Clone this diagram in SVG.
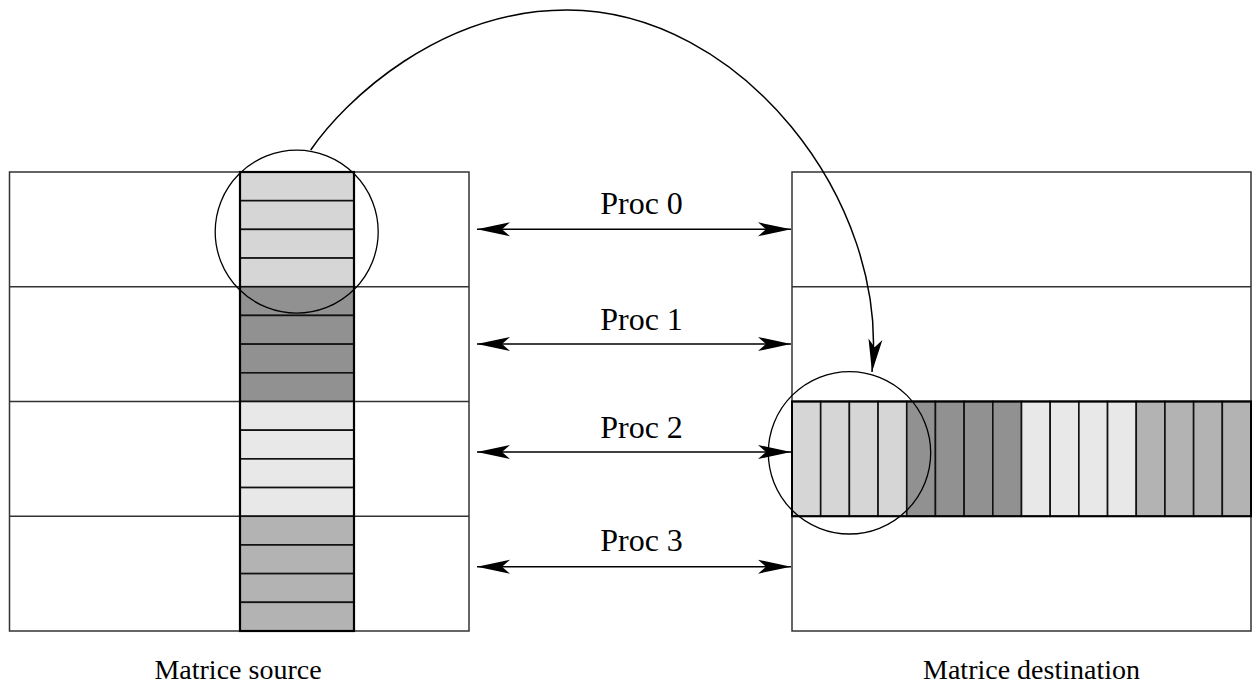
<svg xmlns="http://www.w3.org/2000/svg" width="1252" height="689" viewBox="0 0 1252 689">
<style>
.frame{fill:none;stroke:#333;stroke-width:1.5}
.cell{stroke:#111;stroke-width:1.6}
.p0{fill:#d6d6d6}.p1{fill:#919191}.p2{fill:#e8e8e8}.p3{fill:#b3b3b3}
.ring{fill:none;stroke:#000;stroke-width:1.3}
.conn{fill:none;stroke:#000;stroke-width:1.5}
.lbl{font-family:"Liberation Serif","Times New Roman",serif;fill:#000;text-anchor:middle}
</style>
<defs>
<marker id="ah" viewBox="-34 -8 36 16" refX="0" refY="0" markerWidth="36" markerHeight="16" markerUnits="userSpaceOnUse" orient="auto-start-reverse">
<path d="M0,0 L-33,-7 L-25,0 L-33,7 Z" fill="#000"/>
</marker>
</defs>
<rect width="1252" height="689" fill="#fff"/>

<g id="matrice-source">
<rect class="frame" x="9.5" y="172" width="459.5" height="459"/>
<line class="frame" x1="9.5" y1="286.75" x2="469" y2="286.75"/>
<line class="frame" x1="9.5" y1="401.5" x2="469" y2="401.5"/>
<line class="frame" x1="9.5" y1="516.25" x2="469" y2="516.25"/>
<g id="source-column">
<rect class="cell p0" x="240" y="172" width="114" height="28.69"/>
<rect class="cell p0" x="240" y="200.69" width="114" height="28.69"/>
<rect class="cell p0" x="240" y="229.38" width="114" height="28.69"/>
<rect class="cell p0" x="240" y="258.06" width="114" height="28.69"/>
<rect class="cell p1" x="240" y="286.75" width="114" height="28.69"/>
<rect class="cell p1" x="240" y="315.44" width="114" height="28.69"/>
<rect class="cell p1" x="240" y="344.13" width="114" height="28.69"/>
<rect class="cell p1" x="240" y="372.81" width="114" height="28.69"/>
<rect class="cell p2" x="240" y="401.5" width="114" height="28.69"/>
<rect class="cell p2" x="240" y="430.19" width="114" height="28.69"/>
<rect class="cell p2" x="240" y="458.88" width="114" height="28.69"/>
<rect class="cell p2" x="240" y="487.56" width="114" height="28.69"/>
<rect class="cell p3" x="240" y="516.25" width="114" height="28.69"/>
<rect class="cell p3" x="240" y="544.94" width="114" height="28.69"/>
<rect class="cell p3" x="240" y="573.63" width="114" height="28.69"/>
<rect class="cell p3" x="240" y="602.31" width="114" height="28.69"/>
<rect x="240" y="172" width="114" height="459" fill="none" stroke="#000" stroke-width="2.2"/>
</g>
<circle class="ring" cx="296.7" cy="231.7" r="81.5"/>
<text class="lbl" x="238" y="679" font-size="28">Matrice source</text>
</g>

<g id="matrice-destination">
<rect class="frame" x="792" y="172" width="459" height="459"/>
<line class="frame" x1="792" y1="286.75" x2="1251" y2="286.75" stroke-width="2"/>
<line class="frame" x1="792" y1="401.5" x2="1251" y2="401.5"/>
<line class="frame" x1="792" y1="516.25" x2="1251" y2="516.25"/>
<g id="dest-row">
<rect class="cell p0" x="792" y="401.5" width="28.69" height="114.75"/>
<rect class="cell p0" x="820.69" y="401.5" width="28.69" height="114.75"/>
<rect class="cell p0" x="849.38" y="401.5" width="28.69" height="114.75"/>
<rect class="cell p0" x="878.06" y="401.5" width="28.69" height="114.75"/>
<rect class="cell p1" x="906.75" y="401.5" width="28.69" height="114.75"/>
<rect class="cell p1" x="935.44" y="401.5" width="28.69" height="114.75"/>
<rect class="cell p1" x="964.13" y="401.5" width="28.69" height="114.75"/>
<rect class="cell p1" x="992.81" y="401.5" width="28.69" height="114.75"/>
<rect class="cell p2" x="1021.5" y="401.5" width="28.69" height="114.75"/>
<rect class="cell p2" x="1050.19" y="401.5" width="28.69" height="114.75"/>
<rect class="cell p2" x="1078.88" y="401.5" width="28.69" height="114.75"/>
<rect class="cell p2" x="1107.56" y="401.5" width="28.69" height="114.75"/>
<rect class="cell p3" x="1136.25" y="401.5" width="28.69" height="114.75"/>
<rect class="cell p3" x="1164.94" y="401.5" width="28.69" height="114.75"/>
<rect class="cell p3" x="1193.63" y="401.5" width="28.69" height="114.75"/>
<rect class="cell p3" x="1222.31" y="401.5" width="28.69" height="114.75"/>
<rect x="792" y="401.5" width="459" height="114.75" fill="none" stroke="#000" stroke-width="2"/>
</g>
<circle class="ring" cx="849.5" cy="452.8" r="81.2"/>
<text class="lbl" x="1031.5" y="679" font-size="28">Matrice destination</text>
</g>

<g id="proc-labels">
<text class="lbl" x="641.5" y="214" font-size="32">Proc 0</text>
<text class="lbl" x="641.5" y="329.5" font-size="32">Proc 1</text>
<text class="lbl" x="641.5" y="437.5" font-size="32">Proc 2</text>
<text class="lbl" x="641.5" y="551" font-size="32">Proc 3</text>
</g>

<g id="connectors">
<line class="conn" x1="477" y1="229.3" x2="791" y2="229.3" marker-start="url(#ah)" marker-end="url(#ah)"/>
<line class="conn" x1="477" y1="344" x2="791" y2="344" marker-start="url(#ah)" marker-end="url(#ah)"/>
<line class="conn" x1="477" y1="452" x2="791" y2="452" marker-start="url(#ah)" marker-end="url(#ah)"/>
<line class="conn" x1="477" y1="566.7" x2="791" y2="566.7" marker-start="url(#ah)" marker-end="url(#ah)"/>
<path class="conn" d="M310.7,150 C345,100 440,10 567,10 C740,10 890,200 872,372" marker-end="url(#ah)"/>
</g>
</svg>
